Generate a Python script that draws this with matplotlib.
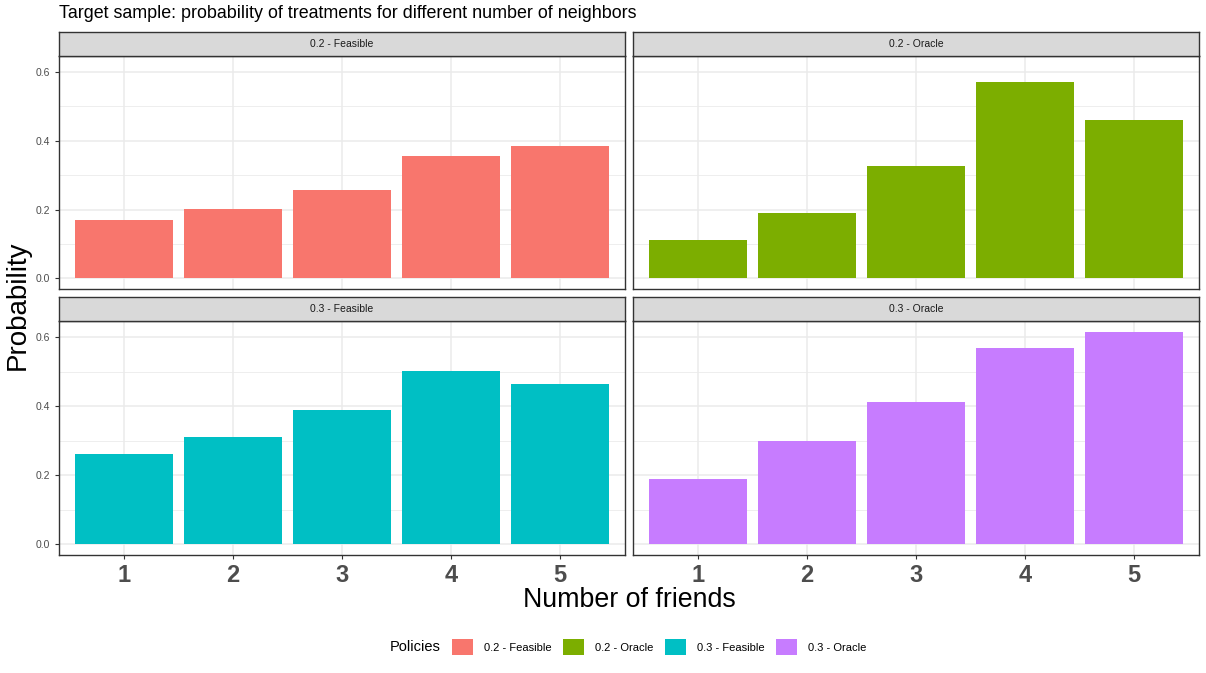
import matplotlib
matplotlib.use("Agg")
import matplotlib.pyplot as plt
from matplotlib.patches import Patch
from matplotlib.offsetbox import HPacker

plt.rcParams["font.family"] = ["Liberation Sans", "DejaVu Sans"]

friends = [1, 2, 3, 4, 5]
policies = ["0.2 - Feasible", "0.2 - Oracle", "0.3 - Feasible", "0.3 - Oracle"]
colors = ["#F8766D", "#7CAE00", "#00BFC4", "#C77CFF"]
feasible_02 = [0.171, 0.203, 0.258, 0.357, 0.386]
oracle_02 = [0.113, 0.191, 0.328, 0.571, 0.461]
feasible_03 = [0.261, 0.312, 0.388, 0.501, 0.463]
oracle_03 = [0.190, 0.300, 0.411, 0.570, 0.616]
values = [feasible_02, oracle_02, feasible_03, oracle_03]

W, H = 1206, 673
fig = plt.figure(figsize=(W / 100, H / 100), dpi=100)

# panel boxes in pixels: (left, right) and (top, bottom)
cols = [(59, 625), (633, 1199)]
rows = [(56, 289), (321, 555)]
strip_h = 24

ymax_all = max(max(v) for v in values)
ylim = (-0.05 * ymax_all, 1.05 * ymax_all)

for i, (pol, col, vals) in enumerate(zip(policies, colors, values)):
    r, c = divmod(i, 2)
    x0, x1 = cols[c]
    y0, y1 = rows[r]
    ax = fig.add_axes([x0 / W, 1 - y1 / H, (x1 - x0) / W, (y1 - y0) / H])
    ax.set_axisbelow(True)
    ax.bar(friends, vals, width=0.9, color=col, zorder=2)
    ax.set_xlim(0.4, 5.6)
    ax.set_ylim(*ylim)
    ax.set_yticks([0, 0.2, 0.4, 0.6])
    ax.set_yticks([0.1, 0.3, 0.5], minor=True)
    ax.grid(True, which="major", color="#EBEBEB", lw=1.1)
    ax.grid(True, which="minor", axis="y", color="#EBEBEB", lw=0.6)
    for s in ax.spines.values():
        s.set_color("#333333")
        s.set_linewidth(1.0)
    ax.tick_params(which="minor", length=0)
    ax.tick_params(which="major", color="#333333", length=3)
    if c == 0:
        ax.set_yticklabels(["0.0", "0.2", "0.4", "0.6"], fontsize=7.5, color="#4D4D4D")
    else:
        ax.tick_params(axis="y", length=0, labelleft=False)
    ax.set_xticks(friends)
    if r == 1:
        ax.set_xticklabels([str(f) for f in friends], fontsize=17, fontweight="bold",
                           color="#4D4D4D")
    else:
        ax.tick_params(axis="x", length=0, labelbottom=False)

    # facet strip
    sax = fig.add_axes([x0 / W, 1 - y0 / H, (x1 - x0) / W, strip_h / H])
    sax.set_xticks([])
    sax.set_yticks([])
    sax.set_facecolor("#D9D9D9")
    for s in sax.spines.values():
        s.set_color("#333333")
        s.set_linewidth(1.0)
    sax.text(0.5, 0.5, pol, ha="center", va="center", fontsize=7.5, color="#1A1A1A",
             transform=sax.transAxes)

fig.text(59 / W, 1 - 14 / H, "Target sample: probability of treatments for different number of neighbors",
         ha="left", va="center", fontsize=12.9)
fig.text(18 / W, 1 - 305 / H, "Probability", rotation=90, ha="center", va="center", fontsize=20)
fig.text(629 / W, 1 - 600 / H, "Number of friends", ha="center", va="center", fontsize=19.3)

handles = [Patch(facecolor=c, edgecolor="none") for c in colors]
leg = fig.legend(handles, policies, title="Policies", loc="center", ncol=4,
                 bbox_to_anchor=(628 / W, 1 - 647 / H), frameon=False, fontsize=8,
                 title_fontsize=10.5, handlelength=1.9, handleheight=1.9,
                 handletextpad=1.0, columnspacing=1.0)
# title to the left of the keys, as in ggplot's bottom legend
box = leg._legend_box
box._children = [HPacker(children=box._children, align="center", pad=0, sep=8)]

fig.savefig("out.png", dpi=100)
